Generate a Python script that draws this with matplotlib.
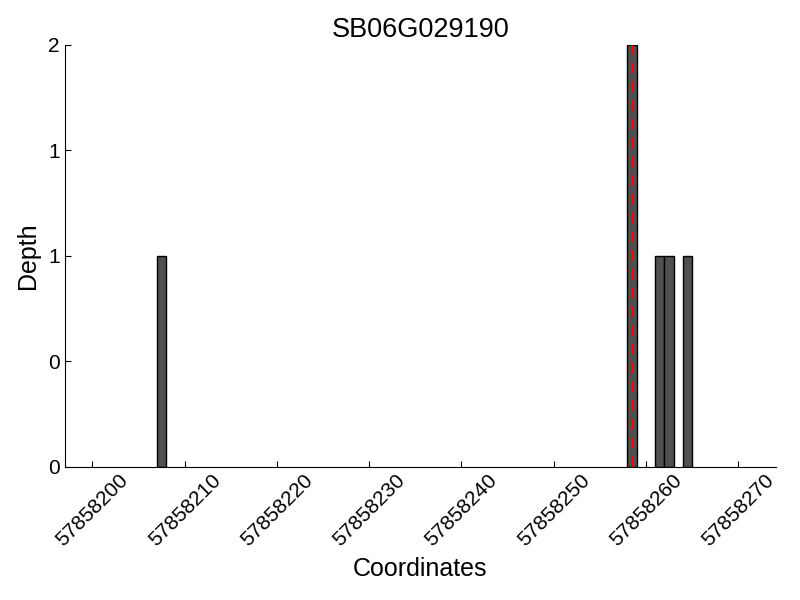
import matplotlib
matplotlib.use("Agg")
import matplotlib.pyplot as plt
from matplotlib.ticker import FormatStrFormatter

plt.rcParams['font.family'] = ['Liberation Sans', 'DejaVu Sans']

# read depth per coordinate
positions = [57858207, 57858258, 57858261, 57858262, 57858264]
depths = [1, 2, 1, 1, 1]
snp_pos = 57858258.5
gene = "SB06G029190"

fig = plt.figure(figsize=(8, 6), dpi=100)
ax = fig.add_axes([0.081, 0.222, 0.889, 0.703])

ax.bar(positions, depths, width=1, align='edge', color='#505050',
       edgecolor='black', linewidth=1)
ax.axvline(snp_pos, color='red', linestyle='--', linewidth=1.5, dashes=(5, 4))

ax.set_xlim(57858197, 57858274.1)
ax.set_ylim(0, 2)
ax.set_xticks(range(57858200, 57858271, 10))
ax.set_yticks([0, 0.5, 1, 1.5, 2])
ax.yaxis.set_major_formatter(FormatStrFormatter('%d'))
ax.xaxis.set_major_formatter(FormatStrFormatter('%d'))

ax.spines['top'].set_visible(False)
ax.spines['right'].set_visible(False)
ax.tick_params(direction='in', length=4, labelsize=15)
plt.setp(ax.get_xticklabels(), rotation=45, ha='center')
ax.tick_params(axis='x', pad=3)

ax.set_xlabel("Coordinates", fontsize=18, labelpad=5)
ax.set_ylabel("Depth", fontsize=18, labelpad=6)
ax.set_title(gene, fontsize=19.5)

fig.savefig("out.png")
